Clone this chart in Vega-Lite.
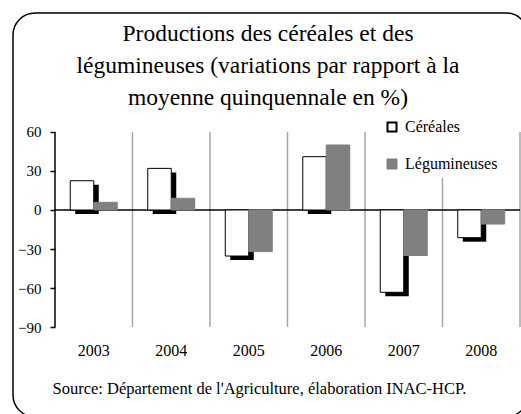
{
  "$schema": "https://vega.github.io/schema/vega-lite/v6.json",
  "width": 515,
  "height": 404,
  "padding": {"left": 13, "top": 13, "right": 0, "bottom": 0},
  "background": "white",
  "config": {
    "view": {"stroke": "black", "strokeWidth": 1.5, "cornerRadius": 22},
    "font": "Liberation Serif"
  },
  "title": {
    "text": ["Productions des céréales et des", "légumineuses  (variations par rapport à la", "moyenne quinquennale en %)"],
    "font": "Liberation Serif",
    "fontSize": 23.5,
    "fontWeight": "normal",
    "lineHeight": 32.3,
    "offset": -97,
    "dx": -2.5,
    "anchor": "middle",
    "color": "black"
  },
  "datasets": {
    "prod": [
      {"year": "2003", "serie": "Céréales", "value": 22.5},
      {"year": "2003", "serie": "Légumineuses", "value": 5.9},
      {"year": "2004", "serie": "Céréales", "value": 32},
      {"year": "2004", "serie": "Légumineuses", "value": 9},
      {"year": "2005", "serie": "Céréales", "value": -35.4},
      {"year": "2005", "serie": "Légumineuses", "value": -32},
      {"year": "2006", "serie": "Céréales", "value": 41},
      {"year": "2006", "serie": "Légumineuses", "value": 50},
      {"year": "2007", "serie": "Céréales", "value": -63.3},
      {"year": "2007", "serie": "Légumineuses", "value": -35},
      {"year": "2008", "serie": "Céréales", "value": -21.3},
      {"year": "2008", "serie": "Légumineuses", "value": -10.8}
    ]
  },
  "data": {"name": "prod"},
  "layer": [
    {
      "data": {"values": [{"year": "2003", "kind": "axis"}, {"year": "2004", "kind": "grid"}, {"year": "2005", "kind": "grid"}, {"year": "2006", "kind": "grid"}, {"year": "2007", "kind": "grid"}, {"year": "2008", "kind": "grid"}]},
      "mark": {"type": "rule", "strokeWidth": 1.5},
      "encoding": {
        "x": {"field": "year", "type": "nominal", "bandPosition": 0,
              "scale": {"type": "band", "paddingInner": 0, "paddingOuter": 0.3226, "align": 0.84},
              "axis": {"orient": "bottom", "offset": -75, "domain": false, "ticks": false, "tickSize": 0, "labelPadding": 0,
                       "bandPosition": 0.5,
                       "labelFont": "Liberation Serif", "labelFontSize": 16, "labelColor": "black", "labelAngle": 0, "grid": false,
                       "title": "Source: Département de l'Agriculture, élaboration INAC-HCP.",
                       "titleFont": "Liberation Serif", "titleFontSize": 16.5, "titleFontWeight": "normal", "titleColor": "black",
                       "titlePadding": 22, "titleX": 246, "titleAlign": "center"}},
        "x2": {"field": "year", "bandPosition": 0},
        "y": {"datum": 60, "type": "quantitative",
              "scale": {"domain": [-159.2, 151.5], "nice": false, "zero": false},
              "axis": {"values": [-90, -60, -30, 0, 30, 60], "offset": -42, "domain": false, "ticks": true, "tickSize": 5, "tickColor": "black",
                       "tickWidth": 1.5, "labels": true, "labelFont": "Liberation Serif", "labelFontSize": 15, "labelColor": "black",
                       "labelPadding": 9, "grid": false, "title": null}},
        "y2": {"datum": -90},
        "color": {"field": "kind", "type": "nominal", "scale": {"domain": ["axis", "grid"], "range": ["black", "#a6a6a6"]}, "legend": null}
      }
    },
    {
      "data": {"values": [{"last": "2008"}]},
      "mark": {"type": "rule", "color": "#a6a6a6", "strokeWidth": 1.5},
      "encoding": {
        "x": {"field": "last", "type": "nominal", "bandPosition": 1},
        "x2": {"field": "last", "bandPosition": 1},
        "y": {"datum": 60, "type": "quantitative"},
        "y2": {"datum": -90}
      }
    },
    {
      "data": {"values": [{"start": "2003", "end": "2008"}]},
      "mark": {"type": "rule", "color": "black", "strokeWidth": 1.5},
      "encoding": {
        "x": {"field": "start", "type": "nominal", "bandPosition": 0},
        "x2": {"field": "end", "bandPosition": 1},
        "y": {"datum": 0, "type": "quantitative"}
      }
    },
    {
      "transform": [{"filter": "datum.serie == 'Céréales'"}],
      "mark": {"type": "bar", "color": "black", "yOffset": 4, "y2Offset": 4},
      "encoding": {
        "x": {"field": "year", "type": "nominal"},
        "xOffset": {"field": "serie", "type": "nominal", "scale": {"domain": ["Céréales", "Légumineuses"], "paddingInner": 0, "paddingOuter": 0.649, "align": 0.664}},
        "y": {"field": "value", "type": "quantitative"},
        "y2": {"datum": 0}
      }
    },
    {
      "mark": {"type": "bar", "strokeWidth": 1},
      "encoding": {
        "x": {"field": "year", "type": "nominal"},
        "xOffset": {"field": "serie", "type": "nominal", "scale": {"domain": ["Céréales", "Légumineuses"], "paddingInner": 0, "paddingOuter": 0.649, "align": 0.5}},
        "y": {"field": "value", "type": "quantitative"},
        "y2": {"datum": 0},
        "fill": {"field": "serie", "type": "nominal",
                 "scale": {"domain": ["Céréales", "Légumineuses"], "range": ["white", "#808080"]},
                 "legend": {"title": null, "orient": "none", "legendX": 366, "legendY": 101, "symbolType": "square",
                            "symbolSize": 81, "symbolStrokeWidth": 2, "labelFont": "Liberation Serif", "labelFontSize": 16,
                            "labelColor": "black", "rowPadding": 19, "padding": 5, "fillColor": "white", "labelOffset": 5}},
        "stroke": {"field": "serie", "type": "nominal",
                   "scale": {"domain": ["Céréales", "Légumineuses"], "range": ["black", "#808080"]},
                   "legend": {"title": null, "orient": "none", "legendX": 366, "legendY": 101, "symbolType": "square",
                              "symbolSize": 81, "symbolStrokeWidth": 2, "labelFont": "Liberation Serif", "labelFontSize": 16,
                              "labelColor": "black", "rowPadding": 19, "padding": 5, "fillColor": "white", "labelOffset": 5}}
      }
    }
  ],
  "resolve": {"scale": {"xOffset": "independent"}}
}
